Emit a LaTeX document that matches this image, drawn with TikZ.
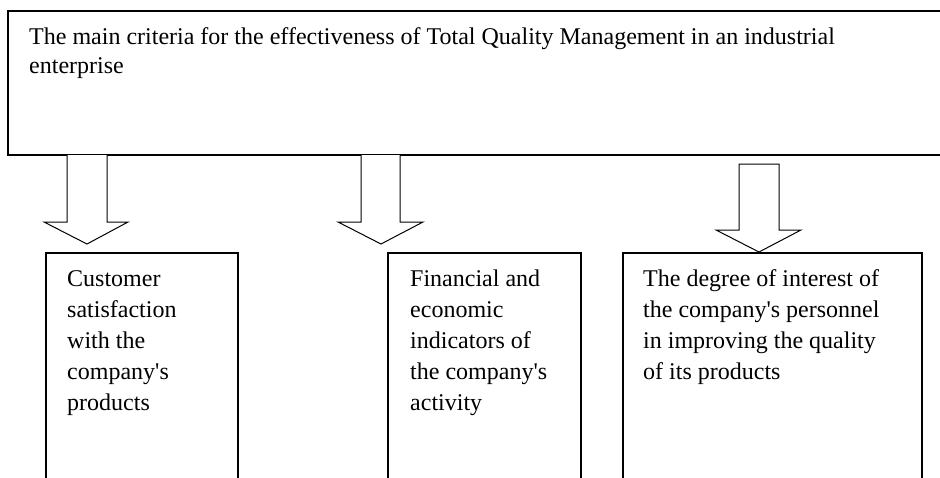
\documentclass[tikz,border=0pt]{standalone}
\usepackage{fontspec}
\setmainfont{Liberation Serif}[Ligatures=TeXOff]
\begin{document}
\begin{tikzpicture}[x=1pt,y=-1pt,
  topframe/.style={draw=black,line width=1.8pt},
  boxframe/.style={draw=black,line width=1.3pt},
  blockarrow/.style={draw=black,line width=1pt,fill=white,line join=miter},
  toptext/.style={anchor=base west,inner sep=0pt,align=left,font=\fontsize{24}{29}\selectfont},
  boxtext/.style={anchor=base west,inner sep=0pt,align=left,font=\fontsize{24}{31}\selectfont}]
\clip (0,0) rectangle (940,477);
\fill[white] (0,0) rectangle (940,477);
% top box
\draw[topframe] (8,11) rectangle (950,155);
\node[toptext] (main) at (29,73) {The main criteria for the effectiveness of Total Quality Management in an industrial\\enterprise};
% bottom boxes
\draw[boxframe] (46,485) -- (46,253) -- (238,253) -- (238,485);
\draw[boxframe] (388,485) -- (388,253) -- (581,253) -- (581,485);
\draw[boxframe] (623,485) -- (623,253) -- (922,253) -- (922,485);
\node[boxtext] (c1) at (67,410) {Customer\\satisfaction\\with the\\company's\\products};
\node[boxtext] (c2) at (410,410) {Financial and\\economic\\indicators of\\the company's\\activity};
\node[boxtext] (c3) at (643,379) {The degree of interest of\\the company's personnel\\in improving the quality\\of its products};
% block arrows
\draw[blockarrow] (67,155) -- (67,222) -- (44,222) -- (87,244) -- (128,222) -- (107,222) -- (107,155);
\draw[blockarrow] (361,155) -- (361,222) -- (338,222) -- (381,244) -- (423,222) -- (400,222) -- (400,155);
\draw[blockarrow] (739,164) -- (739,230) -- (716,230) -- (759,252) -- (801,230) -- (779,230) -- (779,164) -- cycle;
\end{tikzpicture}
\end{document}
